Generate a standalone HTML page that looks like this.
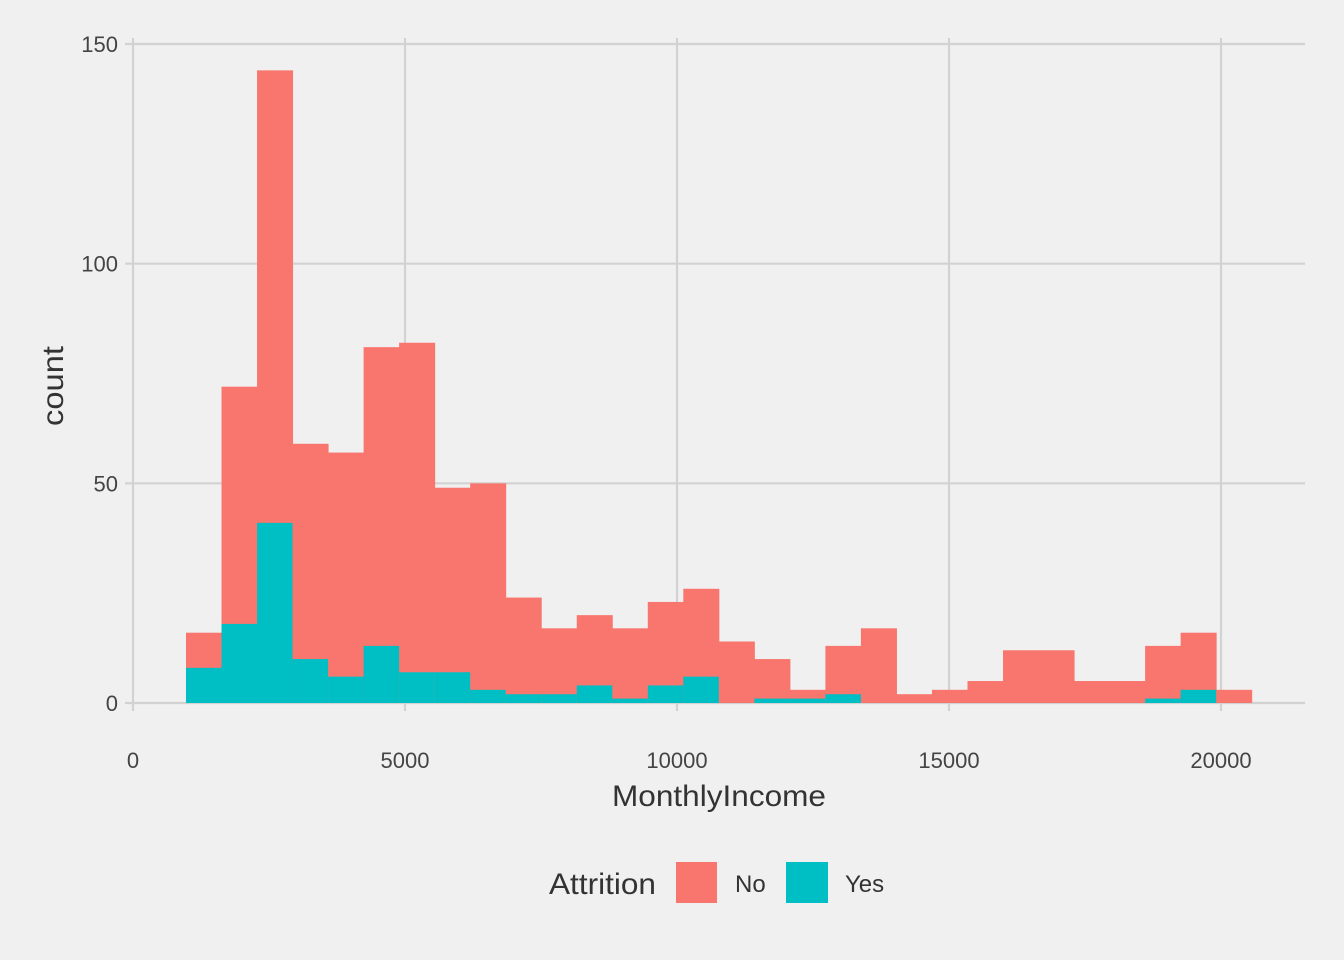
<!DOCTYPE html>
<html><head><meta charset="utf-8"><style>
body{margin:0;background:#f0f0f0;}
svg{display:block;font-family:"Liberation Sans",sans-serif;}
</style></head><body>
<svg id="chart" width="1344" height="960">
<rect width="1344" height="960" fill="#f0f0f0"/>
<g id="grid"></g><g id="bars"></g><g id="axes"></g>
<text x="612" y="806" font-size="30" textLength="214" lengthAdjust="spacingAndGlyphs" fill="#333">MonthlyIncome</text>
<text transform="translate(63,386) rotate(-90)" font-size="30" text-anchor="middle" textLength="80" lengthAdjust="spacingAndGlyphs" fill="#333">count</text>
<g>
<text x="549" y="894" font-size="30" textLength="107" lengthAdjust="spacingAndGlyphs" fill="#333">Attrition</text>
<rect x="676" y="862" width="41" height="41" fill="#F8766D"/>
<text x="735" y="892" font-size="24" fill="#333">No</text>
<rect x="786" y="862" width="42" height="41" fill="#00BFC4"/>
<text x="845" y="892" font-size="24" fill="#333">Yes</text>
</g>
</svg>
<script>
const binStart = 974;
const binWidth = 653;
const totalCounts = [16,72,144,59,57,81,82,49,50,24,17,20,17,23,26,14,10,3,13,17,2,3,5,12,12,5,5,13,16,3];
const yesCounts = [8,18,41,10,6,13,7,7,3,2,2,4,1,4,6,0,1,1,2,0,0,0,0,0,0,0,0,1,3,0];
const xTicks = [0,5000,10000,15000,20000];
const yTicks = [0,50,100,150];
const NS="http://www.w3.org/2000/svg";
const xS=v=>133+v*0.0544;
const yS=v=>703-v*(659/150);
function mk(tag,attrs,parent){const e=document.createElementNS(NS,tag);for(const k in attrs)e.setAttribute(k,attrs[k]);parent.appendChild(e);return e;}
const grid=document.getElementById('grid'),bars=document.getElementById('bars'),axes=document.getElementById('axes');
yTicks.forEach(t=>{
 const l=mk('line',{x1:125,x2:1305,y1:yS(t),y2:yS(t),stroke:'#d2d2d2','stroke-width':2.2},grid);
 
 
 const tx=mk('text',{x:118,y:yS(t)+8,'font-size':22,'text-anchor':'end',fill:'#444'},axes);
 tx.textContent=t;
 
 
});
xTicks.forEach(t=>{
 const l=mk('line',{x1:xS(t),x2:xS(t),y1:38,y2:711,stroke:'#d2d2d2','stroke-width':2.2},grid);
 
 
 const tx=mk('text',{x:xS(t),y:768,'font-size':22,'text-anchor':'middle',fill:'#444'},axes);
 tx.textContent=t;
 
 
});
totalCounts.forEach((c,i)=>{
 const x0=xS(binStart+i*binWidth),x1=xS(binStart+(i+1)*binWidth);
 if(c>0){
  const r=mk('rect',{x:x0,y:yS(c),width:x1-x0+0.5,height:yS(0)-yS(c),fill:'#F8766D'},bars);
  
  
 }
 const y=yesCounts[i];
 if(y>0){
  const r=mk('rect',{x:x0,y:yS(y),width:x1-x0+0.5,height:yS(0)-yS(y),fill:'#00BFC4'},bars);
  
  
 }
});
</script>
</body></html>
